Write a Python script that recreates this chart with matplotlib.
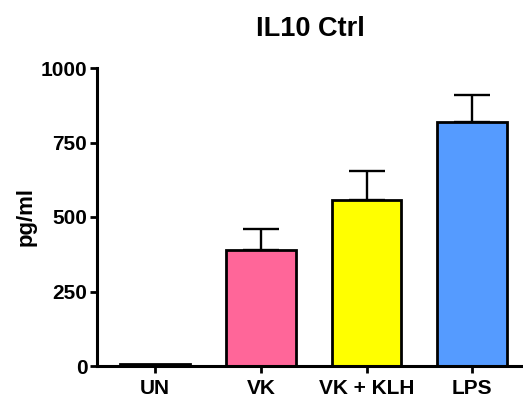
import matplotlib
matplotlib.use("Agg")
import matplotlib.pyplot as plt
import numpy as np

categories = ["UN", "VK", "VK + KLH", "LPS"]
values = [8, 390, 558, 820]
errors = [0, 70, 96, 89]
colors = ["#FFFFFF", "#FF6699", "#FFFF00", "#559BFF"]
title = "IL10 Ctrl"
ylabel = "pg/ml"
yticks = [0, 250, 500, 750, 1000]

plt.rcParams['font.family'] = ['Liberation Sans', 'DejaVu Sans']
plt.rcParams['font.weight'] = 'bold'

fig = plt.figure(figsize=(5.23, 4.01), dpi=100)
ax = fig.add_axes([97/523, 1-366/401, 1-97/523, (366-68)/401])

x = np.arange(len(categories))
ax.bar(x, values, width=0.66, color=colors, edgecolor="black", linewidth=2.0, zorder=2)
lower = [0]*len(errors)
ax.errorbar(x[1:], values[1:], yerr=[lower[1:], errors[1:]], fmt="none", ecolor="black",
            elinewidth=1.7, capsize=13, capthick=1.7, zorder=1)

ax.set_xlim(-0.55, 3.48)
ax.set_ylim(0, 1000)
ax.set_yticks(yticks)
ax.set_yticklabels([str(t) for t in yticks])
ax.set_xticks(x)
ax.set_xticklabels(categories)

for s in ["top", "right"]:
    ax.spines[s].set_visible(False)
for s in ["left", "bottom"]:
    ax.spines[s].set_linewidth(2.2)
ax.tick_params(axis="both", width=2.0, length=5, labelsize=15, pad=2)
ax.tick_params(axis="x", pad=4)
for lab in ax.get_xticklabels() + ax.get_yticklabels():
    lab.set_fontweight("bold")

ax.set_ylabel(ylabel, fontsize=16, fontweight="bold", labelpad=3)
ax.set_title(title, fontsize=19.5, fontweight="bold", pad=23)

fig.savefig("out.png", dpi=100)
